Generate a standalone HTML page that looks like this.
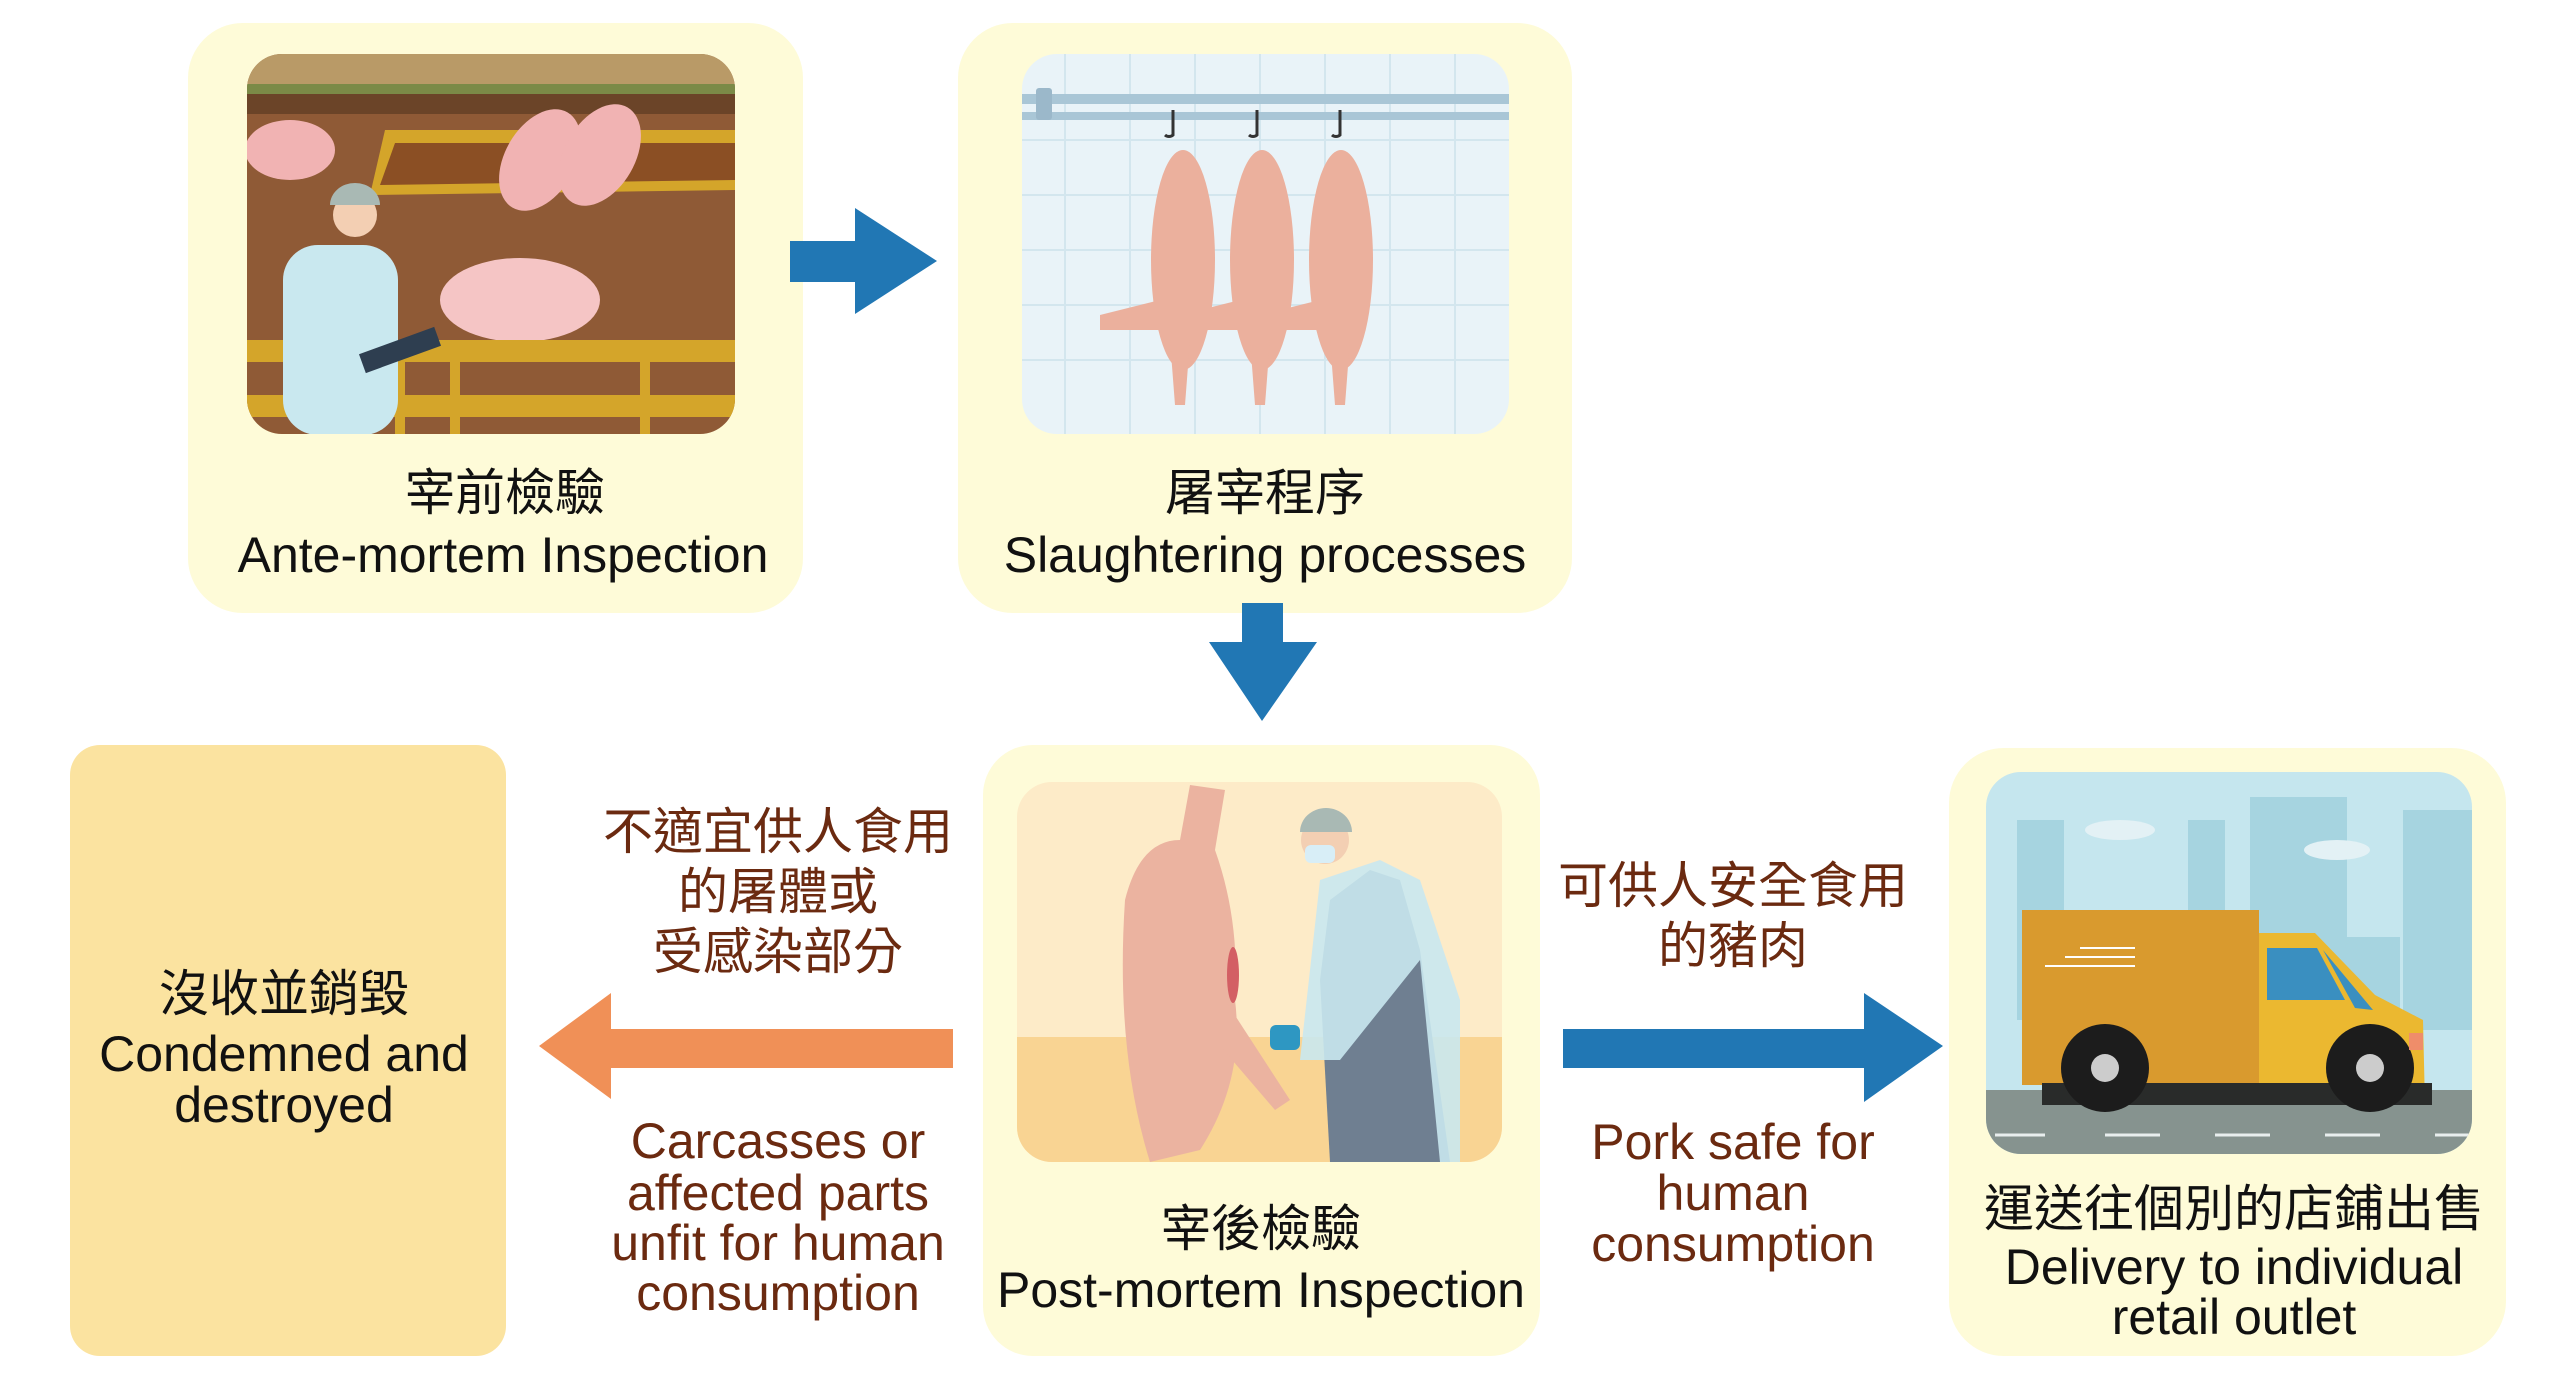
<!DOCTYPE html>
<html><head><meta charset="utf-8"><style>
html,body{margin:0;padding:0;background:#fff;width:2560px;height:1389px;overflow:hidden}
svg{display:block}
text{font-family:"Liberation Sans","Noto Sans CJK TC",sans-serif;text-anchor:middle}
.k{fill:#111;font-size:50px}
.b{fill:#6b2a10;font-size:50px}
</style></head><body>
<svg width="2560" height="1389" viewBox="0 0 2560 1389" xmlns="http://www.w3.org/2000/svg">
<rect x="188" y="23" width="615" height="590" rx="55" fill="#fefbd8"/>
<rect x="958" y="23" width="614" height="590" rx="55" fill="#fefbd8"/>
<rect x="70" y="745" width="436" height="611" rx="30" fill="#fbe3a0"/>
<rect x="983" y="745" width="557" height="611" rx="50" fill="#fefbd8"/>
<rect x="1949" y="748" width="557" height="608" rx="55" fill="#fefbd8"/>

<polygon points="790,241 855,241 855,208 937,261 855,314 855,282 790,282" fill="#2177b4"/>
<polygon points="1242,603 1283,603 1283,642 1317,642 1262,721 1209,642 1242,642" fill="#2177b4"/>
<polygon points="953,1029 611,1029 611,993 539,1046 611,1099 611,1068 953,1068" fill="#f09057"/>
<polygon points="1563,1029 1864,1029 1864,993 1943,1046 1864,1102 1864,1068 1563,1068" fill="#2177b4"/>

<defs>
<clipPath id="c1"><rect x="247" y="54" width="488" height="380" rx="35"/></clipPath>
<clipPath id="c2"><rect x="1022" y="54" width="487" height="380" rx="35"/></clipPath>
<clipPath id="c4"><rect x="1017" y="782" width="485" height="380" rx="35"/></clipPath>
<clipPath id="c5"><rect x="1986" y="772" width="486" height="382" rx="35"/></clipPath>
</defs>
<g clip-path="url(#c1)">
<rect x="247" y="54" width="488" height="380" fill="#8f5a36"/>
<rect x="247" y="54" width="488" height="30" fill="#b99a67"/>
<rect x="247" y="84" width="488" height="10" fill="#7b8a47"/>
<rect x="247" y="94" width="488" height="20" fill="#6b4428"/>
<polygon points="385,130 735,130 735,190 370,195" fill="#d4a52a"/>
<polygon points="395,143 735,143 735,180 380,185" fill="#8b4f24"/>
<ellipse cx="290" cy="150" rx="45" ry="30" fill="#f1b3b3"/>
<ellipse cx="540" cy="160" rx="35" ry="55" fill="#f1b3b3" transform="rotate(30 540 160)"/>
<ellipse cx="600" cy="155" rx="35" ry="55" fill="#f1b3b3" transform="rotate(30 600 155)"/>
<ellipse cx="520" cy="300" rx="80" ry="42" fill="#f5c5c5"/>
<rect x="247" y="340" width="488" height="22" fill="#d4a52a"/>
<rect x="247" y="395" width="488" height="22" fill="#d4a52a"/>
<rect x="395" y="340" width="10" height="94" fill="#d4a52a"/>
<rect x="450" y="340" width="10" height="94" fill="#d4a52a"/>
<rect x="640" y="340" width="10" height="94" fill="#d4a52a"/>
<rect x="283" y="245" width="115" height="190" rx="35" fill="#c9e8ef"/>
<circle cx="355" cy="215" r="22" fill="#f3cfb3"/>
<path d="M330 205 a25 22 0 0 1 50 0 z" fill="#a9b9b4"/>
<rect x="360" y="340" width="80" height="20" fill="#2e3e50" transform="rotate(-20 400 350)"/>
</g>

<g clip-path="url(#c2)">
<rect x="1022" y="54" width="487" height="380" fill="#e9f3f8"/>
<g stroke="#d3e6ee" stroke-width="2">
<line x1="1022" y1="140" x2="1509" y2="140"/><line x1="1022" y1="195" x2="1509" y2="195"/><line x1="1022" y1="250" x2="1509" y2="250"/><line x1="1022" y1="305" x2="1509" y2="305"/><line x1="1022" y1="360" x2="1509" y2="360"/>
<line x1="1065" y1="54" x2="1065" y2="434"/><line x1="1130" y1="54" x2="1130" y2="434"/><line x1="1195" y1="54" x2="1195" y2="434"/><line x1="1260" y1="54" x2="1260" y2="434"/><line x1="1325" y1="54" x2="1325" y2="434"/><line x1="1390" y1="54" x2="1390" y2="434"/><line x1="1455" y1="54" x2="1455" y2="434"/>
</g>
<rect x="1022" y="94" width="487" height="10" fill="#a9c6d6"/>
<rect x="1022" y="112" width="487" height="8" fill="#a9c6d6"/>
<rect x="1036" y="88" width="16" height="32" rx="3" fill="#9bb8ca"/>
<g fill="#ebb09d">
<ellipse cx="1183" cy="260" rx="32" ry="110"/>
<ellipse cx="1262" cy="260" rx="32" ry="110"/>
<ellipse cx="1341" cy="260" rx="32" ry="110"/>
<polygon points="1170,340 1190,340 1185,405 1175,405"/>
<polygon points="1250,340 1270,340 1265,405 1255,405"/>
<polygon points="1330,340 1350,340 1345,405 1335,405"/>
<polygon points="1100,315 1160,300 1160,330 1100,330"/>
<polygon points="1180,315 1240,300 1240,330 1180,330"/>
<polygon points="1260,315 1320,300 1320,330 1260,330"/>
</g>
<g stroke="#333" stroke-width="3" fill="none">
<path d="M1173 110 v25 a6 6 0 0 1 -8 0"/><path d="M1257 110 v25 a6 6 0 0 1 -8 0"/><path d="M1340 110 v25 a6 6 0 0 1 -8 0"/>
</g>
</g>

<g clip-path="url(#c4)">
<rect x="1017" y="782" width="485" height="380" fill="#fdebc8"/>
<rect x="1017" y="1037" width="485" height="125" fill="#f9d493"/>
<path d="M1190 785 L1225 790 L1215 850 Q1240 920 1235 1000 Q1245 1080 1200 1150 L1150 1162 Q1115 1050 1125 900 Q1140 840 1180 840 Z" fill="#ebb3a0"/>
<path d="M1225 1000 L1290 1100 L1275 1110 L1215 1040 Z" fill="#ebb3a0"/>
<ellipse cx="1233" cy="975" rx="6" ry="28" fill="#d35f64"/>
<path d="M1330 900 L1370 870 L1400 880 L1420 950 L1450 1162 L1330 1162 L1320 980 Z" fill="#6f7f91"/>
<path d="M1320 880 L1380 860 L1420 880 L1460 1000 L1460 1162 L1440 1162 L1420 960 L1340 1060 L1300 1060 Z" fill="#c9e8ef" opacity="0.9"/>
<rect x="1270" y="1025" width="30" height="25" rx="6" fill="#2e97c2"/>
<circle cx="1325" cy="840" r="24" fill="#f3cfb3"/>
<path d="M1300 832 a26 24 0 0 1 52 0 z" fill="#a9b9b4"/>
<rect x="1305" y="845" width="30" height="18" rx="6" fill="#d8eef7"/>
</g>

<g clip-path="url(#c5)">
<rect x="1981" y="772" width="491" height="405" fill="#c5e6ee"/>
<g fill="#a6d4e0">
<rect x="2017" y="820" width="47" height="200"/>
<rect x="2188" y="820" width="37" height="200"/>
<rect x="2250" y="797" width="97" height="230"/>
<rect x="2347" y="937" width="53" height="90"/>
<rect x="2403" y="810" width="69" height="220"/>
</g>
<ellipse cx="2120" cy="830" rx="35" ry="10" fill="#e3f1f5"/>
<ellipse cx="2337" cy="850" rx="33" ry="10" fill="#e3f1f5"/>
<rect x="1981" y="1090" width="491" height="70" fill="#86938f"/>
<g stroke="#e8eeee" stroke-width="3"><line x1="1995" y1="1135" x2="2045" y2="1135"/><line x1="2105" y1="1135" x2="2160" y2="1135"/><line x1="2215" y1="1135" x2="2270" y2="1135"/><line x1="2325" y1="1135" x2="2380" y2="1135"/><line x1="2435" y1="1135" x2="2472" y2="1135"/></g>
<rect x="2022" y="910" width="237" height="175" fill="#d99a2e"/>
<g stroke="#fff" stroke-width="2"><line x1="2080" y1="948" x2="2135" y2="948"/><line x1="2065" y1="957" x2="2135" y2="957"/><line x1="2045" y1="966" x2="2135" y2="966"/></g>
<path d="M2259 933 L2315 933 L2375 995 L2423 1020 L2425 1105 L2259 1105 Z" fill="#ebb830"/>
<path d="M2267 948 L2317 948 L2345 1000 L2267 1000 Z" fill="#3a8fc0"/>
<path d="M2323 950 L2373 1010 L2355 1008 Z" fill="#3a8fc0"/>
<rect x="2042" y="1083" width="390" height="22" fill="#292b2a"/>
<circle cx="2105" cy="1068" r="44" fill="#1c1c1c"/><circle cx="2105" cy="1068" r="14" fill="#ccc"/>
<circle cx="2370" cy="1068" r="44" fill="#1c1c1c"/><circle cx="2370" cy="1068" r="14" fill="#ccc"/>
<rect x="2409" y="1033" width="14" height="17" fill="#ef8d6a"/>
</g>

<text class="k" x="505" y="510">宰前檢驗</text>
<text class="k" x="503" y="572">Ante-mortem Inspection</text>
<text class="k" x="1265" y="510">屠宰程序</text>
<text class="k" x="1265" y="572">Slaughtering processes</text>
<text class="k" x="284" y="1011">沒收並銷毀</text>
<text class="k" x="284" y="1071">Condemned and</text>
<text class="k" x="284" y="1122">destroyed</text>
<text class="k" x="1261" y="1246">宰後檢驗</text>
<text class="k" x="1261" y="1307">Post-mortem Inspection</text>
<text class="k" x="2234" y="1226">運送往個別的店鋪出售</text>
<text class="k" x="2234" y="1284">Delivery to individual</text>
<text class="k" x="2234" y="1334">retail outlet</text>
<text class="b" x="778" y="849">不適宜供人食用</text>
<text class="b" x="778" y="909">的屠體或</text>
<text class="b" x="778" y="969">受感染部分</text>
<text class="b" x="778" y="1158">Carcasses or</text>
<text class="b" x="778" y="1210">affected parts</text>
<text class="b" x="778" y="1260">unfit for human</text>
<text class="b" x="778" y="1310">consumption</text>
<text class="b" x="1733" y="903">可供人安全食用</text>
<text class="b" x="1733" y="963">的豬肉</text>
<text class="b" x="1733" y="1159">Pork safe for</text>
<text class="b" x="1733" y="1210">human</text>
<text class="b" x="1733" y="1261">consumption</text>
</svg>
</body></html>
